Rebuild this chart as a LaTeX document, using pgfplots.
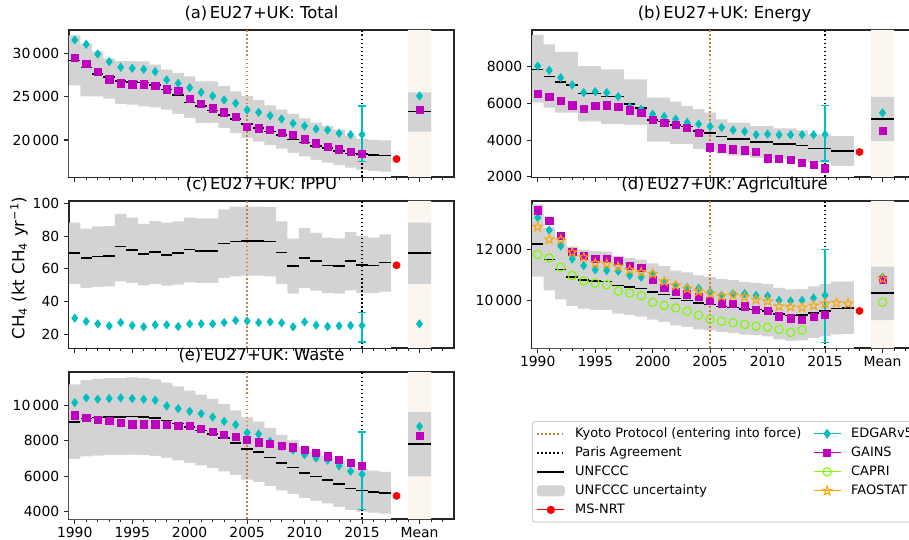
\documentclass[border=0pt]{standalone}
\usepackage{fontspec}
\setmainfont{DejaVu Sans}
\usepackage{pgfplots}
\pgfplotsset{compat=1.18}
\usepackage{pgfplotstable}

\definecolor{edgar}{RGB}{0,191,191}
\definecolor{gains}{RGB}{191,0,191}
\definecolor{capri}{RGB}{124,252,0}
\definecolor{fao}{RGB}{255,165,0}
\definecolor{kyoto}{RGB}{205,128,55}
\definecolor{band}{RGB}{211,211,211}
\definecolor{meanbg}{RGB}{252,246,240}

% open five-point star
\pgfdeclareplotmark{ostar}{%
  \pgfpathmoveto{\pgfpointpolar{90}{\pgfplotmarksize}}%
  \pgfpathlineto{\pgfpointpolar{126}{0.4*\pgfplotmarksize}}%
  \pgfpathlineto{\pgfpointpolar{162}{\pgfplotmarksize}}%
  \pgfpathlineto{\pgfpointpolar{198}{0.4*\pgfplotmarksize}}%
  \pgfpathlineto{\pgfpointpolar{234}{\pgfplotmarksize}}%
  \pgfpathlineto{\pgfpointpolar{270}{0.4*\pgfplotmarksize}}%
  \pgfpathlineto{\pgfpointpolar{306}{\pgfplotmarksize}}%
  \pgfpathlineto{\pgfpointpolar{342}{0.4*\pgfplotmarksize}}%
  \pgfpathlineto{\pgfpointpolar{18}{\pgfplotmarksize}}%
  \pgfpathlineto{\pgfpointpolar{54}{0.4*\pgfplotmarksize}}%
  \pgfpathclose\pgfusepathqstroke}

\tikzset{
  kyotoline/.style={kyoto, line width=1.2pt, dash pattern=on 1.2pt off 1.7pt},
  parisline/.style={black, line width=1.1pt, dash pattern=on 1.1pt off 1.8pt},
}

% uncertainty bands: x hi lo (half years added at the ends for the steps)
\pgfplotstableread{
x hi lo
1989.5 32077 26308
1990 32077 26308
1991 31077 25038
1992 30231 25038
1993 29400 24770
1994 29100 24154
1995 29100 24077
1996 29077 23885
1997 28700 23770
1998 28115 23500
1999 27730 23000
2000 27350 22540
2001 26770 21960
2002 26770 21960
2003 26200 21385
2004 25615 20800
2005 25100 20230
2006 24600 19800
2007 24000 19400
2008 23500 19000
2009 23000 18500
2010 22500 18100
2011 22000 17700
2012 21600 17400
2013 21200 17100
2014 20500 16800
2015 20100 16550
2016 20000 16400
2017 19950 16350
2017.5 19950 16350
}\bA
\pgfplotstableread{
x hi lo
1989.5 9694 6036
1990 9694 6036
1991 9189 5766
1992 8793 5495
1993 8793 5495
1994 8018 5009
1995 8018 5009
1996 7838 4865
1997 7838 4865
1998 7297 4829
1999 7297 4829
2000 6306 3910
2001 6306 3910
2002 6090 3783
2003 5856 3783
2004 5676 3513
2005 5495 3423
2006 5120 3280
2007 4940 3160
2008 4940 3160
2009 4750 3030
2010 4750 3030
2011 4640 2960
2012 4640 2960
2013 4530 2890
2014 4310 2774
2015 4310 2774
2016 4216 2594
2017 4216 2594
2017.5 4216 2594
}\bB
\pgfplotstableread{
x hi lo
1989.5 88.2 50.8
1990 88.2 50.8
1991 84.5 48.4
1992 85.9 49.0
1993 86.1 49.4
1994 93.5 52.4
1995 91.2 51.4
1996 87.5 50.0
1997 89.2 50.8
1998 88.2 49.8
1999 89.0 50.4
2000 91.2 51.8
2001 90.8 51.4
2002 90.8 51.4
2003 96.3 54.5
2004 98.0 55.5
2005 98.0 55.9
2006 98.0 55.9
2007 97.6 55.5
2008 89.0 50.8
2009 78.4 44.9
2010 84.9 48.4
2011 82.0 46.7
2012 79.0 45.3
2013 78.6 44.9
2014 82.4 46.9
2015 80.0 45.3
2016 79.0 45.3
2017 81.0 46.1
2017.5 81.0 46.1
}\bC
\pgfplotstableread{
x hi lo
1989.5 13790 10939
1990 13790 10939
1991 12885 10389
1992 12450 10038
1993 12116 9769
1994 12000 9676
1995 11941 9628
1996 11927 9617
1997 11753 9476
1998 11681 9418
1999 11608 9360
2000 11463 9243
2001 11346 9149
2002 11172 9008
2003 11100 8950
2004 10985 8857
2005 10926 8809
2006 10839 8740
2007 10796 8705
2008 10723 8646
2009 10694 8622
2010 10636 8576
2011 10491 8459
2012 10433 8412
2013 10447 8424
2014 10549 8506
2015 10636 8576
2016 10738 8658
2017 10753 8670
2017.5 10753 8670
}\bD
\pgfplotstableread{
x hi lo
1989.5 11182 6972
1990 11182 6972
1991 11415 7117
1992 11486 7161
1993 11531 7189
1994 11531 7189
1995 11578 7219
1996 11531 7189
1997 11462 7146
1998 11274 7029
1999 11064 6898
2000 10831 6753
2001 10596 6607
2002 10363 6461
2003 10059 6272
2004 9708 6053
2005 9311 5805
2006 9077 5660
2007 8727 5441
2008 8329 5193
2009 8025 5003
2010 7627 4756
2011 7394 4610
2012 7159 4464
2013 6855 4274
2014 6553 4086
2015 6412 3998
2016 6318 3939
2017 6248 3895
2017.5 6248 3895
}\bE

% yearly series: UNFCCC, EDGAR, GAINS (CAPRI, FAOSTAT)
\pgfplotstableread{
x u ed ga
1990 29190 31538 29500
1991 28385 31038 28808
1992 27600 29923 27846
1993 27250 29038 27000
1994 26800 28385 26538
1995 26690 28270 26423
1996 26650 28154 26423
1997 26330 27885 26231
1998 25800 26923 25846
1999 25170 26538 25692
2000 24300 26038 24731
2001 23930 25500 24154
2002 23420 25077 23654
2003 22900 24615 23192
2004 22400 24231 22692
2005 21860 23462 21538
2006 21380 23192 21346
2007 21000 22808 21154
2008 20600 22423 20846
2009 20050 21923 20577
2010 19700 21615 20077
2011 19280 21269 19615
2012 19050 21154 19231
2013 18740 20769 18923
2014 18420 20615 18654
2015 18360 20615 18423
2016 18250 nan nan
2017 18200 nan nan
}\tA
\pgfplotstableread{
x u ed ga
1990 7838 8018 6522
1991 7441 7784 6360
1992 7153 7387 6126
1993 6991 6991 5892
1994 6522 6576 5712
1995 6522 6630 5856
1996 6360 6576 5892
1997 6360 6360 5820
1998 5946 5802 5622
1999 5730 5676 5495
2000 5099 5405 5081
2001 5009 5279 4955
2002 4829 5135 4829
2003 4739 4955 4649
2004 4505 4865 4414
2005 4396 4739 3603
2006 4198 4684 3549
2007 4050 4540 3495
2008 4050 4468 3441
2009 3892 4288 3351
2010 3892 4324 3009
2011 3800 4288 2973
2012 3800 4288 2918
2013 3711 4288 2774
2014 3531 4288 2648
2015 3531 4306 2468
2016 3405 nan nan
2017 3405 nan nan
}\tB
\pgfplotstableread{
x u ed
1990 69.8 30.0
1991 66.5 28.0
1992 67.5 26.5
1993 68.0 25.3
1994 73.7 27.3
1995 71.4 25.5
1996 69.0 24.7
1997 70.4 25.9
1998 68.6 25.9
1999 69.6 24.9
2000 71.8 26.5
2001 71.0 26.5
2002 71.0 26.5
2003 75.5 27.3
2004 76.7 28.6
2005 77.1 28.2
2006 77.1 27.3
2007 76.7 27.7
2008 70.0 27.1
2009 61.8 24.7
2010 66.5 27.7
2011 64.7 25.7
2012 62.2 24.9
2013 61.8 25.3
2014 64.9 25.5
2015 62.4 25.5
2016 62.2 nan
2017 63.9 nan
}\tC
\pgfplotstableread{
x u ed ga ca fa
1990 12222 13268 13555 11804 12902
1991 11608 12771 13137 11673 12405
1992 11216 12144 12536 11307 12392
1993 10915 11634 11922 10981 11895
1994 10811 11373 11765 10758 11699
1995 10758 11203 11634 10680 11464
1996 10745 11177 11634 10615 11438
1997 10588 11150 11556 10366 11333
1998 10523 10981 11360 10288 11203
1999 10458 10915 11281 10183 11111
2000 10327 11046 10811 9922 11046
2001 10222 10719 10510 9804 10745
2002 10065 10588 10353 9700 10588
2003 10000 10497 10236 9569 10458
2004 9896 10471 10131 9412 10353
2005 9843 10327 9987 9242 10262
2006 9765 10196 9882 9177 10157
2007 9726 10262 9869 9125 10196
2008 9660 10262 9765 9046 10131
2009 9634 10196 9634 8981 10026
2010 9582 10170 9595 8942 9961
2011 9451 10000 9373 8850 9765
2012 9399 9974 9295 8733 9739
2013 9412 10000 9242 8824 9713
2014 9504 10092 9347 nan 9791
2015 9582 10196 9425 nan 9869
2016 9674 nan nan nan 9896
2017 9687 nan nan nan 9869
}\tD
\pgfplotstableread{
x u ed ga
1990 9054 10151 9432
1991 9243 10416 9300
1992 9300 10341 9186
1993 9337 10379 9110
1994 9337 10416 9016
1995 9375 10379 8921
1996 9337 10341 8921
1997 9281 10284 8921
1998 9129 9962 8902
1999 8959 9811 8864
2000 8770 9659 8826
2001 8580 9527 8675
2002 8391 9337 8523
2003 8145 9091 8353
2004 7861 8902 8202
2005 7539 8448 8050
2006 7350 8372 7918
2007 7066 7962 7823
2008 6744 7678 7728
2009 6498 7470 7634
2010 6176 7205 7501
2011 5987 7016 7312
2012 5797 6901 7123
2013 5551 6580 6933
2014 5306 6277 6744
2015 5192 6109 6593
2016 5116 nan nan
2017 5059 nan nan
}\tE

\pgfplotsset{
  panel/.style={
    scale only axis, width=277.2pt, height=105.84pt, anchor=north west,
    xmin=1989.5, xmax=2023,
    axis line style={line width=0.8pt, black!85},
    major tick style={line width=0.8pt, black!85},
    minor tick style={line width=0.6pt, black!85},
    tick align=outside, tick pos=left,
    major tick length=3.5pt, minor tick length=2pt,
    xtick={1990,1995,2000,2005,2010,2015,2020},
    xticklabels={1990,1995,2000,2005,2010,2015,Mean},
    minor xtick={1990,...,2022},
    ticklabel style={font=\fontsize{10}{12}\selectfont},
    xticklabel style={yshift=0.8pt},
    title style={font=\fontsize{11.8}{14}\selectfont, at={(0.5,1)}, anchor=base, yshift=2.6pt},
    /pgf/number format/assume math mode=true,
    /pgf/number format/1000 sep={\,},
    /pgf/number format/min exponent for 1000 sep=4,
    scaled y ticks=false,
  },
  edgarm/.style={only marks, mark=diamond*, mark size=3pt, color=edgar},
  gainsm/.style={only marks, mark=square*, mark size=2.6pt, color=gains},
  caprim/.style={only marks, mark=o, mark size=3pt, color=capri, mark options={line width=0.8pt}},
  faom/.style={only marks, mark=ostar, mark size=3.5pt, color=fao, mark options={line width=0.7pt}},
  msm/.style={only marks, mark=*, mark size=2.6pt, color=red},
  unf/.style={only marks, mark=-, mark size=4.13pt, color=black, mark options={line width=1.1pt}},
  ebar/.style={edgar, line width=1.1pt, mark=-, mark size=2.6pt, mark options={line width=1.1pt}},
  mklegend/.style={legend image code/.code={%
    \path (0pt,0pt) -- (19.4pt,0pt);
    \draw[##1] plot coordinates {(9.7pt,0pt)};}},
}

% background column, uncertainty band, UNFCCC segments, reference years
% #1 band table, #2 series table, #3 ymin, #4 ymax, #5 mean low, #6 mean high, #7 mean UNFCCC
\newcommand\basepanel[7]{%
  \addplot[draw=none, fill=meanbg, forget plot] coordinates {(2019,#3) (2019,#4) (2021,#4) (2021,#3) (2019,#3)};
  \addplot[draw=none, fill=band, const plot mark mid, forget plot] table[x=x,y=hi]{#1} \closedcycle;
  \addplot[draw=none, fill=white, const plot mark mid, forget plot] table[x=x,y=lo]{#1} \closedcycle;
  \addplot[draw=none, fill=band, forget plot] coordinates {(2019,#5) (2019,#6) (2021,#6) (2021,#5) (2019,#5)};
  \addplot[black, line width=1.1pt, forget plot] coordinates {(2019,#7) (2021,#7)};
  \addplot[unf, forget plot] table[x=x,y=u]{#2};
  \addplot[kyotoline, forget plot] coordinates {(2005,#3) (2005,#4)};
  \addplot[parisline, forget plot] coordinates {(2015,#3) (2015,#4)};
}

\begin{document}
\begin{tikzpicture}

% (a) Total
\begin{axis}[panel, at={(49.68pt,366.48pt)}, xticklabels={},
  ymin=15730, ymax=32690, ytick={20000,25000,30000},
  title={(a)\hspace{0.15em}EU27+UK: Total}]
\basepanel{\bA}{\tA}{15730}{32690}{20962}{25500}{23270}
\addplot[ebar] coordinates {(2015,17500) (2015,23923)};
\addplot[edgarm] table[x=x,y=ed]{\tA};
\addplot[gainsm] table[x=x,y=ga]{\tA};
\addplot[edgarm] coordinates {(2020,25077)};
\addplot[gainsm] coordinates {(2020,23462)};
\addplot[msm] coordinates {(2018,17808)};
\end{axis}

% (b) Energy
\begin{axis}[panel, at={(383.04pt,366.48pt)}, xticklabels={},
  ymin=1995, ymax=9975, ytick={2000,4000,6000,8000},
  title={(b)\hspace{0.15em}EU27+UK: Energy}]
\basepanel{\bB}{\tB}{1995}{9975}{3946}{6342}{5153}
\addplot[ebar] coordinates {(2015,2864) (2015,5874)};
\addplot[edgarm] table[x=x,y=ed]{\tB};
\addplot[gainsm] table[x=x,y=ga]{\tB};
\addplot[edgarm] coordinates {(2020,5477)};
\addplot[gainsm] coordinates {(2020,4522)};
\addplot[msm] coordinates {(2018,3351)};
\end{axis}

% (c) IPPU
\begin{axis}[panel, at={(49.68pt,243.36pt)}, xticklabels={},
  ymin=11.8, ymax=101.4, ytick={20,40,60,80,100},
  title={(c)\hspace{0.15em}EU27+UK: IPPU}]
\basepanel{\bC}{\tC}{11.8}{101.4}{50.8}{88.2}{69.6}
\addplot[ebar] coordinates {(2015,15.3) (2015,33.5)};
\addplot[edgarm] table[x=x,y=ed]{\tC};
\addplot[edgarm] coordinates {(2020,26.5)};
\addplot[msm] coordinates {(2018,62.2)};
\end{axis}

% (d) Agriculture
\begin{axis}[panel, at={(383.04pt,243.36pt)},
  ymin=8118, ymax=13922, ytick={10000,12000},
  title={(d)\hspace{0.15em}EU27+UK: Agriculture}]
\basepanel{\bD}{\tD}{8118}{13922}{9216}{11333}{10288}
\addplot[ebar] coordinates {(2015,8340) (2015,12000)};
\addplot[edgarm] table[x=x,y=ed]{\tD};
\addplot[gainsm] table[x=x,y=ga]{\tD};
\addplot[caprim] table[x=x,y=ca]{\tD};
\addplot[faom] table[x=x,y=fa]{\tD};
\addplot[edgarm] coordinates {(2020,10915)};
\addplot[gainsm] coordinates {(2020,10824)};
\addplot[caprim] coordinates {(2020,9922)};
\addplot[faom] coordinates {(2020,10850)};
\addplot[msm] coordinates {(2018,9582)};
\end{axis}

% (e) Waste
\begin{axis}[panel, at={(49.68pt,120.24pt)},
  ymin=3585, ymax=11875, ytick={4000,6000,8000,10000},
  title={(e)\hspace{0.15em}EU27+UK: Waste}]
\basepanel{\bE}{\tE}{3585}{11875}{5987}{9621}{7823}
\addplot[ebar] coordinates {(2015,4132) (2015,8486)};
\addplot[edgarm] table[x=x,y=ed]{\tE};
\addplot[gainsm] table[x=x,y=ga]{\tE};
\addplot[edgarm] coordinates {(2020,8807)};
\addplot[gainsm] coordinates {(2020,8258)};
\addplot[msm] coordinates {(2018,4889)};
\end{axis}

\node[rotate=90, font=\fontsize{12}{14}\selectfont] at (13.7pt,195.1pt)
  {CH\textsubscript{4} (kt CH\textsubscript{4} yr\textsuperscript{−1})};

% legend
\begin{axis}[at={(383.04pt,84.96pt)}, anchor=north west, scale only axis,
  width=200pt, height=60pt, hide axis, xmin=0, xmax=1, ymin=0, ymax=1,
  legend columns=2, legend cell align=left,
  legend style={at={(0,1)}, anchor=north west, draw=black!20, line width=0.7pt,
    rounded corners=2pt, fill=white, font=\fontsize{9.3}{11}\selectfont,
    inner xsep=2.9pt, inner ysep=2pt,
    nodes={inner xsep=0pt, inner ysep=2.2pt, text height=7.2pt, text depth=2.1pt, anchor=west},
    /tikz/every odd column/.append style={column sep=7.2pt},
    /tikz/every even column/.append style={column sep=8.5pt}}]
\addplot[draw=none, forget plot] coordinates {(0,0) (1,1)};
\addlegendimage{legend image code/.code={\draw[kyotoline] (0pt,0pt) -- (19.4pt,0pt);}}
\addlegendentry{Kyoto Protocol (entering into force)}
\addlegendimage{mklegend, edgarm}
\addlegendentry{EDGARv5.0}
\addlegendimage{legend image code/.code={\draw[parisline] (0pt,0pt) -- (19.4pt,0pt);}}
\addlegendentry{Paris Agreement}
\addlegendimage{mklegend, gainsm}
\addlegendentry{GAINS}
\addlegendimage{legend image code/.code={\draw[black, line width=1.1pt] (0pt,0pt) -- (19.4pt,0pt);}}
\addlegendentry{UNFCCC}
\addlegendimage{mklegend, caprim}
\addlegendentry{CAPRI}
\addlegendimage{legend image code/.code={\fill[band] (0pt,-3.6pt) rectangle (19.4pt,3.6pt);}}
\addlegendentry{UNFCCC uncertainty}
\addlegendimage{mklegend, faom}
\addlegendentry{FAOSTAT}
\addlegendimage{mklegend, msm}
\addlegendentry{MS-NRT}
\end{axis}
\pgfresetboundingbox
\path[use as bounding box] (0,0) rectangle (654.48pt,388.08pt);
\end{tikzpicture}
\end{document}
